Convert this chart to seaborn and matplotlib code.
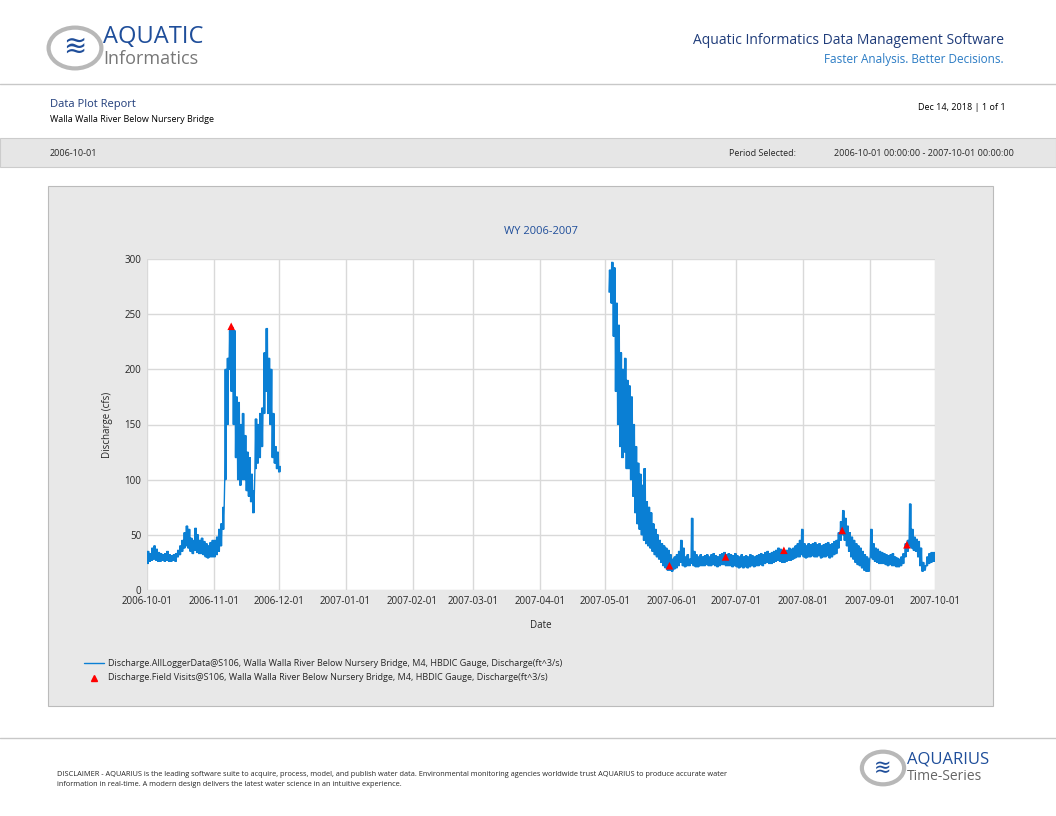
import pandas as pd
import matplotlib.pyplot as plt
import matplotlib.dates as mdates
from matplotlib.patches import Rectangle, Circle
import seaborn as sns
import numpy as np

# Set style for report look
sns.set_style("white")
plt.rcParams['font.family'] = ['Open Sans', 'DejaVu Sans']

# 1. Daily low / high discharge (cfs)
fall_lo = [24, 26, 27, 28, 27, 26, 26, 27, 26, 27, 26, 26, 27, 26, 30, 32, 35, 38, 40, 38, 35, 33, 36, 34, 33, 33, 32, 30, 29, 30, 30,
           30, 32, 35, 40, 55, 100, 150, 200, 180, 150, 120, 100, 95, 100, 100, 90, 85, 80, 70, 110, 115, 120, 130, 160, 180, 160, 150, 120, 115, 110, 107]
fall_hi = [35, 33, 38, 40, 37, 34, 33, 32, 33, 35, 32, 31, 32, 33, 36, 40, 45, 52, 58, 55, 47, 45, 56, 50, 45, 47, 44, 42, 40, 43, 45,
           45, 48, 55, 60, 75, 200, 210, 235, 238, 235, 175, 170, 150, 160, 140, 125, 120, 105, 90, 155, 150, 160, 165, 215, 237, 210, 200, 160, 130, 125, 112]

spring_lo = [270, 260, 230, 180, 150, 130, 120, 125, 110, 110, 100, 85, 70, 60, 55, 50, 45, 42, 40, 38, 35, 32, 30, 28, 25, 22, 20, 18, 18,  # May 3-31
             17, 19, 20, 22, 25, 22, 21, 22, 22, 24, 22, 21, 21, 22, 22, 22, 23, 22, 22, 23, 22, 21, 22, 23, 23, 22, 22, 22, 21, 22,
             21, 20, 21, 20, 21, 20, 21, 22, 21, 22, 22, 23, 22, 24, 25, 24, 24, 25, 26, 27, 26, 25, 25, 26, 27, 27, 28, 29, 30, 30, 32,
             30, 29, 30, 30, 31, 30, 30, 31, 29, 30, 30, 31, 29, 30, 32, 33, 38, 45, 50, 45, 40, 35, 30, 28, 25, 23, 22, 20, 18, 17, 17,
             30, 28, 26, 25, 24, 24, 24, 23, 22, 23, 22, 22, 21, 21, 22, 24, 30, 35, 40, 38, 36, 35, 30, 22, 17, 18, 22, 24, 25, 26,
             26]
spring_hi = [290, 297, 292, 260, 240, 215, 200, 210, 190, 185, 175, 150, 130, 115, 105, 95, 110, 80, 75, 70, 60, 55, 50, 45, 42, 40, 38, 36, 32,
             28, 30, 32, 35, 45, 38, 30, 32, 28, 65, 35, 32, 30, 32, 30, 31, 32, 30, 32, 33, 31, 30, 32, 33, 34, 32, 33, 32, 31, 33,
             31, 30, 32, 30, 31, 30, 32, 31, 30, 31, 32, 33, 32, 34, 35, 33, 34, 35, 36, 38, 37, 36, 35, 36, 38, 37, 38, 40, 42, 45, 55,
             42, 40, 42, 41, 42, 43, 41, 42, 40, 41, 42, 43, 41, 42, 44, 45, 52, 62, 72, 65, 58, 52, 48, 45, 42, 40, 38, 35, 32, 30, 28,
             55, 42, 38, 37, 35, 34, 33, 32, 31, 32, 33, 30, 29, 28, 30, 33, 42, 45, 78, 55, 48, 46, 44, 38, 25, 22, 30, 33, 34, 34,
             34]

rows = []
for seg, start, lo, hi in [(0, '2006-10-01', fall_lo, fall_hi), (1, '2007-05-03', spring_lo, spring_hi)]:
    days = pd.date_range(start, periods=len(lo), freq='D')
    for d, a, b in zip(days, lo, hi):
        for h, v in zip([0, 6, 12, 18], [a, b, a, b]):  # diurnal swing
            rows.append({'Date': d + pd.Timedelta(hours=h), 'Discharge': v, 'seg': seg})
df = pd.DataFrame(rows)

visits = pd.DataFrame({
    'Date': pd.to_datetime(['2006-11-09', '2007-05-31', '2007-06-26', '2007-07-23', '2007-08-19', '2007-09-18']),
    'Discharge': [239, 22, 30, 36, 54, 41],
})

# 2. Report page
fig = plt.figure(figsize=(10.56, 8.16), dpi=100)
fig.patch.set_facecolor('white')

# header
fig.add_artist(Circle((75 / 1056, 1 - 48 / 816), 0.025, transform=fig.transFigure,
                      facecolor='white', edgecolor='#b8b8b8', lw=3))
fig.text(75 / 1056, 1 - 48 / 816, '≋', color='#1f4e9a', fontsize=20, ha='center', va='center')
fig.text(103 / 1056, 1 - 37 / 816, 'AQUATIC', color='#1f4e9a', fontsize=17, va='center')
fig.text(103 / 1056, 1 - 59 / 816, 'Informatics', color='#777777', fontsize=13, va='center')
fig.text(1004 / 1056, 1 - 41 / 816, 'Aquatic Informatics Data Management Software', color='#1f3c7a', fontsize=10, ha='right', va='center')
fig.text(1004 / 1056, 1 - 60 / 816, 'Faster Analysis. Better Decisions.', color='#2a7bc4', fontsize=8.5, ha='right', va='center')
fig.add_artist(plt.Line2D([0, 1], [1 - 84 / 816] * 2, color='#c8c8c8', lw=1))

fig.text(50 / 1056, 1 - 104 / 816, 'Data Plot Report', color='#1f3c7a', fontsize=8, va='center')
fig.text(50 / 1056, 1 - 120 / 816, 'Walla Walla River Below Nursery Bridge', color='black', fontsize=6.5, va='center')
fig.text(1006 / 1056, 1 - 107 / 816, 'Dec 14, 2018 | 1 of 1', color='black', fontsize=6.5, ha='right', va='center')

fig.add_artist(Rectangle((0, 1 - 167 / 816), 1, 29 / 816, transform=fig.transFigure,
                         facecolor='#e6e6e6', edgecolor='#cccccc', lw=0.8))
fig.text(50 / 1056, 1 - 153 / 816, '2006-10-01', fontsize=6.5, va='center')
fig.text(729 / 1056, 1 - 153 / 816, 'Period Selected:', fontsize=6.5, va='center')
fig.text(1014 / 1056, 1 - 153 / 816, '2006-10-01 00:00:00 - 2007-10-01 00:00:00', fontsize=6.5, ha='right', va='center')

# chart panel
fig.add_artist(Rectangle((48 / 1056, 1 - 706 / 816), 945 / 1056, 520 / 816, transform=fig.transFigure,
                         facecolor='#e8e8e8', edgecolor='#bbbbbb', lw=0.8, zorder=-1))

ax = fig.add_axes([147 / 1056, 1 - 590 / 816, 788 / 1056, 331 / 816])
ax.set_zorder(2)
sns.lineplot(data=df, x='Date', y='Discharge', units='seg', estimator=None,
             color='#0a7fd4', linewidth=1, ax=ax)
sns.scatterplot(data=visits, x='Date', y='Discharge', marker='^', color='red',
                s=30, edgecolor='none', ax=ax, zorder=5)

ax.set_xlim(pd.Timestamp('2006-10-01'), pd.Timestamp('2007-10-01'))
ax.set_ylim(0, 300)
ax.set_yticks(range(0, 301, 50))
ax.xaxis.set_major_locator(mdates.MonthLocator())
ax.xaxis.set_major_formatter(mdates.DateFormatter('%Y-%m-%d'))
ax.grid(True, color='#d9d9d9', lw=1)
for s in ax.spines.values():
    s.set_visible(False)
ax.tick_params(labelsize=7, length=0, pad=4)
ax.set_xlabel('Date', fontsize=7, labelpad=10)
ax.set_ylabel('Discharge (cfs)', fontsize=7, labelpad=8)
ax.set_title('WY 2006-2007', color='#1f4e9a', fontsize=8, pad=28)
ax.title.set_y(1.0)
ax.set_title('WY 2006-2007', color='#1f4e9a', fontsize=8, pad=18)

# legend
fig.add_artist(plt.Line2D([84 / 1056, 104 / 1056], [1 - 663 / 816] * 2, color='#0a7fd4', lw=1))
fig.add_artist(plt.Line2D([94 / 1056], [1 - 678 / 816], marker='^', color='red', markersize=4, lw=0))
fig.text(108 / 1056, 1 - 663 / 816, 'Discharge.AllLoggerData@S106, Walla Walla River Below Nursery Bridge, M4, HBDIC Gauge, Discharge(ft^3/s)', fontsize=6.5, va='center')
fig.text(108 / 1056, 1 - 678 / 816, 'Discharge.Field Visits@S106, Walla Walla River Below Nursery Bridge, M4, HBDIC Gauge, Discharge(ft^3/s)', fontsize=6.5, va='center')

# footer
fig.add_artist(plt.Line2D([0, 1], [1 - 738 / 816] * 2, color='#c8c8c8', lw=1))
fig.text(57 / 1056, 1 - 774 / 816, 'DISCLAIMER - AQUARIUS is the leading software suite to acquire, process, model, and publish water data. Environmental monitoring agencies worldwide trust AQUARIUS to produce accurate water',
         fontsize=5.3, va='center')
fig.text(57 / 1056, 1 - 785 / 816, 'information in real-time. A modern design delivers the latest water science in an intuitive experience.',
         fontsize=5.3, va='center')
fig.add_artist(Circle((883 / 1056, 1 - 768 / 816), 0.02, transform=fig.transFigure,
                      facecolor='white', edgecolor='#b8b8b8', lw=3))
fig.text(883 / 1056, 1 - 768 / 816, '≋', color='#1f4e9a', fontsize=15, ha='center', va='center')
fig.text(907 / 1056, 1 - 760 / 816, 'AQUARIUS', color='#1f4e9a', fontsize=12, va='center')
fig.text(907 / 1056, 1 - 777 / 816, 'Time-Series', color='#666666', fontsize=10, va='center')

plt.savefig('out.png', dpi=100)
